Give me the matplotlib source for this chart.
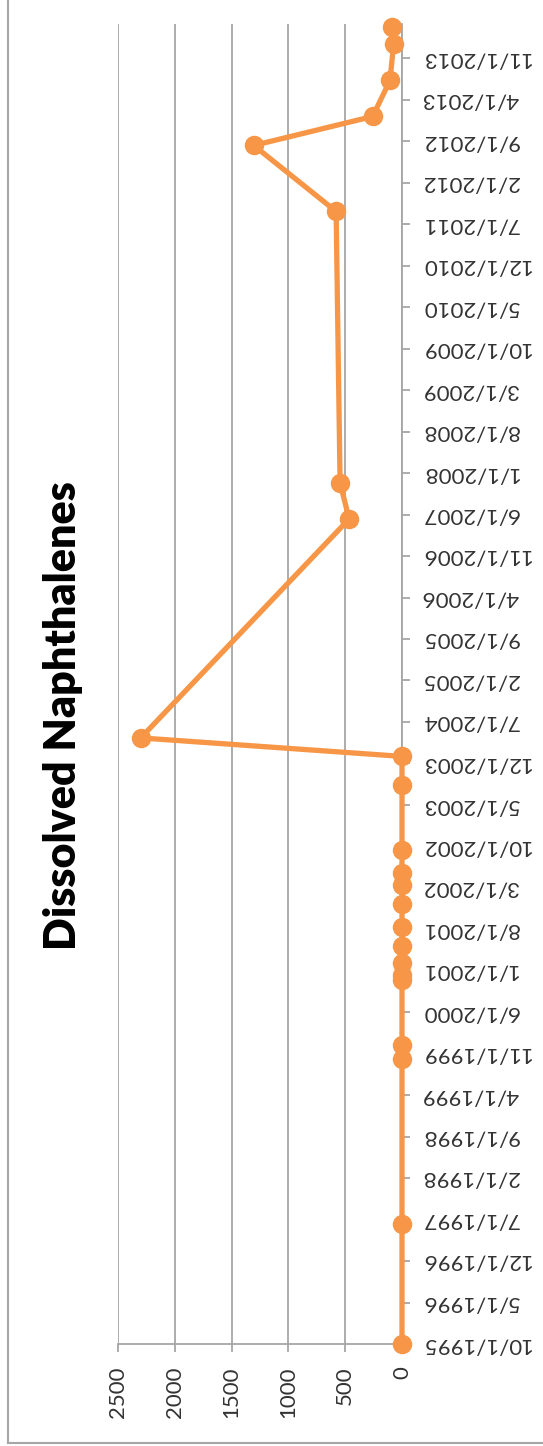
import datetime as dt

import matplotlib
matplotlib.use("Agg")
import matplotlib.pyplot as plt
from matplotlib.lines import Line2D

plt.rcParams["font.family"] = ["Lato", "DejaVu Sans"]

# sample dates and dissolved naphthalene results
sample_dates = [
    "1995-10-01", "1997-06-10", "1999-10-06", "1999-12-15", "2000-11-15",
    "2000-12-10", "2001-02-10", "2001-05-06", "2001-08-10", "2001-12-10",
    "2002-03-15", "2002-05-15", "2002-09-12", "2003-08-10", "2004-01-06",
    "2004-04-10", "2007-05-10", "2007-11-10", "2011-09-06", "2012-08-10",
    "2013-01-06", "2013-07-10", "2014-01-15", "2014-04-10",
]
naphthalenes = [
    0, 0, 0, 0, 0,
    0, 0, 0, 0, 0,
    0, 0, 0, 0, 0,
    2300, 465, 545, 580, 1305,
    258, 106, 73, 85,
]
value_ticks = [0, 500, 1000, 1500, 2000, 2500]
date_ticks = [
    "10/1/1995", "5/1/1996", "12/1/1996", "7/1/1997", "2/1/1998", "9/1/1998",
    "4/1/1999", "11/1/1999", "6/1/2000", "1/1/2001", "8/1/2001", "3/1/2002",
    "10/1/2002", "5/1/2003", "12/1/2003", "7/1/2004", "2/1/2005", "9/1/2005",
    "4/1/2006", "11/1/2006", "6/1/2007", "1/1/2008", "8/1/2008", "3/1/2009",
    "10/1/2009", "5/1/2010", "12/1/2010", "7/1/2011", "2/1/2012", "9/1/2012",
    "4/1/2013", "11/1/2013",
]

ORANGE = "#F79646"
GRID = "#A6A6A6"
LABEL = "#333333"

dates = [dt.datetime.strptime(d, "%Y-%m-%d") for d in sample_dates]
tick_dates = [dt.datetime.strptime(d, "%m/%d/%Y") for d in date_ticks]

fig = plt.figure(figsize=(5.43, 14.46), dpi=100)
ax = fig.add_axes([118 / 543, 1 - 1344 / 1446, 284 / 543, 1320 / 1446])

# chart is laid out sideways: values run right-to-left, dates bottom-to-top
ax.plot(naphthalenes, dates, color=ORANGE, linewidth=3.8, marker="o",
        markersize=13, solid_capstyle="round", clip_on=False, zorder=3)

ax.set_xlim(2500, 0)
ax.set_ylim(dates[0], dt.datetime(2014, 4, 26))
ax.set_xticks(value_ticks)
ax.set_xticklabels([str(v) for v in value_ticks], rotation=90)
ax.set_yticks(tick_dates)
ax.set_yticklabels(date_ticks, rotation=180, ha="left", va="center")
ax.yaxis.tick_right()

ax.grid(axis="x", color=GRID, linewidth=1.3)
ax.set_axisbelow(True)
for side in ("left", "top"):
    ax.spines[side].set_visible(False)
for side in ("right", "bottom"):
    ax.spines[side].set_color(GRID)
    ax.spines[side].set_linewidth(1.3)

ax.tick_params(axis="x", direction="out", length=6, width=1.3, color=GRID,
               labelsize=16, labelcolor=LABEL, pad=10)
ax.tick_params(axis="y", direction="out", length=6, width=1.3, color=GRID,
               labelsize=16, labelcolor=LABEL, pad=8)

fig.text(63 / 543, 1 - 716 / 1446, "Dissolved Naphthalenes", rotation=90,
         ha="center", va="center", fontsize=31, fontweight="heavy",
         color="black")

# chart area border
fig.add_artist(Line2D([8 / 543, 8 / 543], [1 - 1443 / 1446, 1], color=GRID,
                      linewidth=1.5, transform=fig.transFigure))
fig.add_artist(Line2D([8 / 543, 1], [1 - 1443 / 1446, 1 - 1443 / 1446],
                      color=GRID, linewidth=1.5, transform=fig.transFigure))

fig.savefig("out.png", dpi=100, facecolor="white")
